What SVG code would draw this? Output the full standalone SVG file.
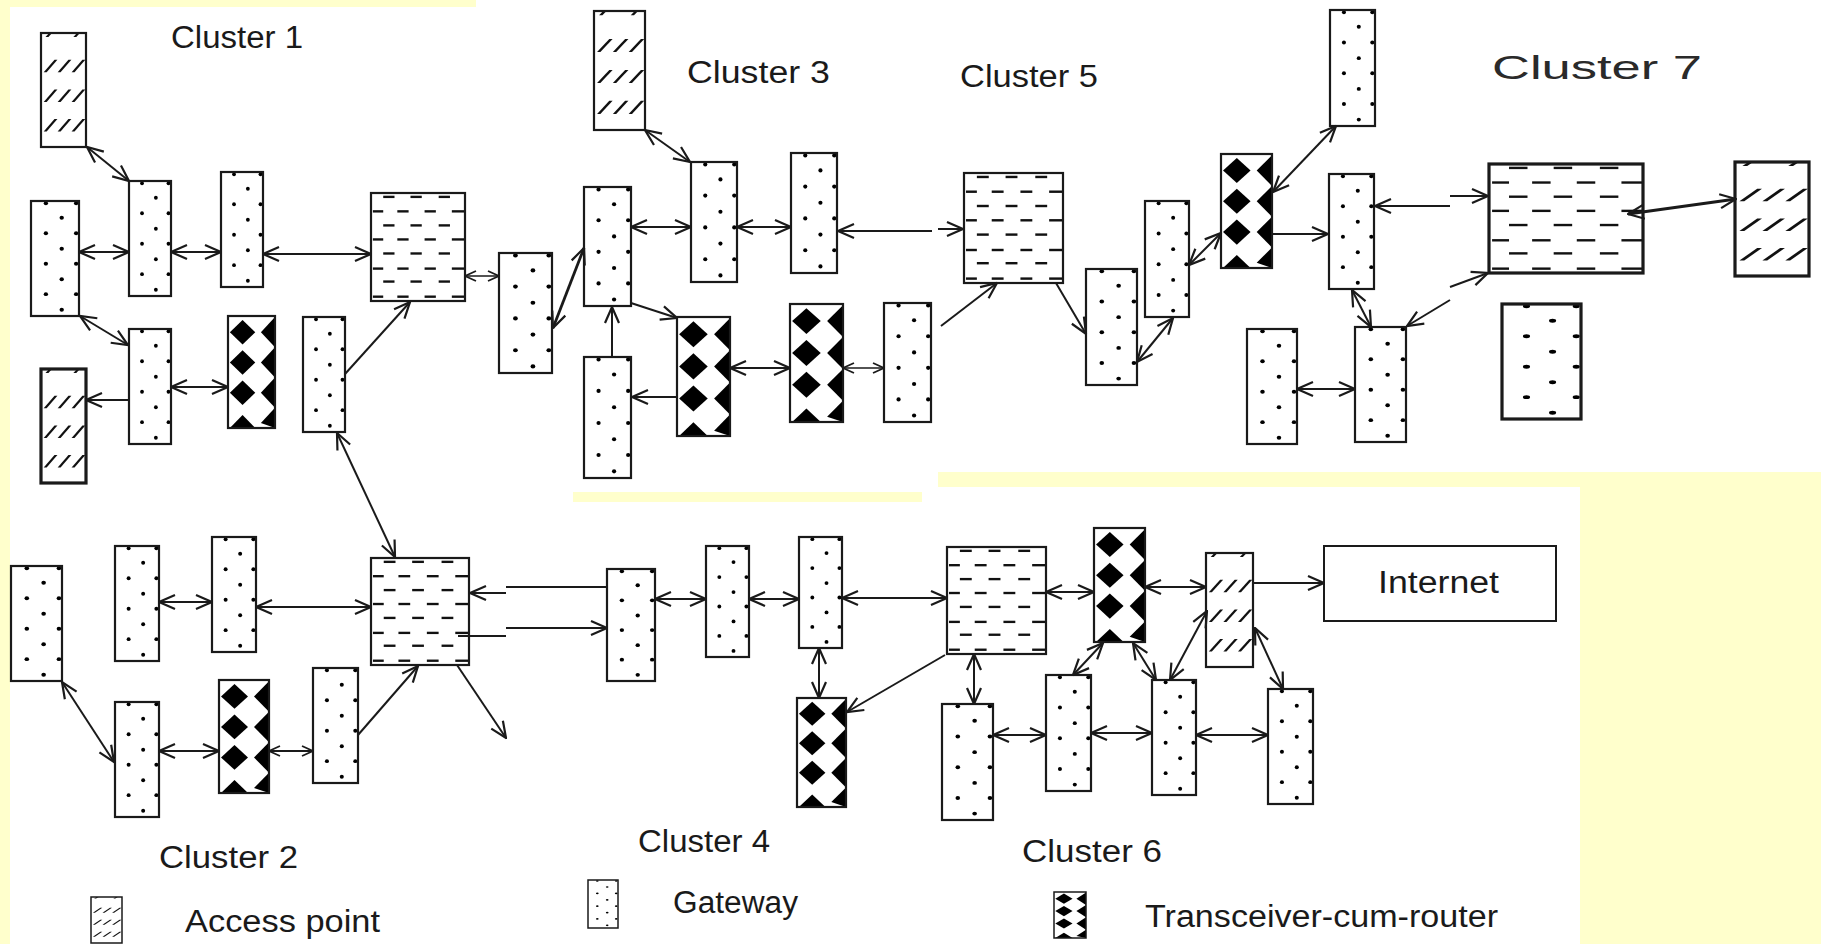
<svg xmlns="http://www.w3.org/2000/svg" width="1821" height="944" viewBox="0 0 1821 944">
<style>
.n{stroke:#1a1a1a;stroke-width:2.2}
.k{stroke-width:3.2}
.gw{fill:url(#gw)}
.tr{fill:url(#tr)}
.rt{fill:url(#rt)}
.ap{fill:url(#ap)}
.c{fill:none;stroke:#1a1a1a;stroke-width:2}
.w{stroke-width:2.8}
.th{stroke-width:1.5}
.d{marker-start:url(#ah);marker-end:url(#ah)}
.s{marker-end:url(#ah)}
.ds{marker-start:url(#as);marker-end:url(#as)}
.t{font-family:"Liberation Sans",Arial,sans-serif;font-size:31px;fill:#1a1a1a}
</style>
<defs>
<marker id="ah" viewBox="0 0 18 18" refX="17" refY="9" markerWidth="18" markerHeight="18" orient="auto-start-reverse" markerUnits="userSpaceOnUse"><path d="M1,2 L17,9 L1,16" fill="none" stroke="#1a1a1a" stroke-width="2.2"/></marker>
<marker id="as" viewBox="0 0 13 13" refX="12" refY="6.5" markerWidth="13" markerHeight="13" orient="auto-start-reverse" markerUnits="userSpaceOnUse"><path d="M1,1.5 L12,6.5 L1,11.5" fill="none" stroke="#1a1a1a" stroke-width="1.8"/></marker>
<pattern id="gw" patternUnits="objectBoundingBox" patternContentUnits="objectBoundingBox" width="1" height="1">
<rect width="1" height="1" fill="#fff"/>
<g fill="#000">
<ellipse cx=".31" cy=".02" rx=".045" ry=".017"/><ellipse cx=".94" cy=".02" rx=".045" ry=".017"/>
<ellipse cx=".64" cy=".145" rx=".045" ry=".017"/>
<ellipse cx=".31" cy=".28" rx=".045" ry=".017"/><ellipse cx=".94" cy=".28" rx=".045" ry=".017"/>
<ellipse cx=".64" cy=".415" rx=".045" ry=".017"/>
<ellipse cx=".31" cy=".545" rx=".045" ry=".017"/><ellipse cx=".94" cy=".545" rx=".045" ry=".017"/>
<ellipse cx=".64" cy=".68" rx=".045" ry=".017"/>
<ellipse cx=".31" cy=".81" rx=".045" ry=".017"/><ellipse cx=".94" cy=".81" rx=".045" ry=".017"/>
<ellipse cx=".64" cy=".945" rx=".045" ry=".017"/>
</g>
</pattern>
<pattern id="tr" patternUnits="objectBoundingBox" patternContentUnits="objectBoundingBox" width="1" height="1">
<rect width="1" height="1" fill="#fff"/>
<g fill="#000">
<polygon points=".04,.145 .31,.035 .58,.145 .31,.255"/>
<polygon points=".04,.415 .31,.305 .58,.415 .31,.525"/>
<polygon points=".04,.685 .31,.575 .58,.685 .31,.795"/>
<polygon points=".04,1 .31,.885 .58,1"/>
<polygon points="1,.01 .70,.145 1,.28"/>
<polygon points="1,.28 .70,.415 1,.55"/>
<polygon points="1,.55 .70,.685 1,.82"/>
<polygon points="1,.82 .70,.955 1,1"/>
</g>
</pattern>
<pattern id="rt" patternUnits="objectBoundingBox" patternContentUnits="objectBoundingBox" width="1" height="1">
<rect width="1" height="1" fill="#fff"/>
<g fill="#111">
<rect x=".13" y=".025" width=".12" height=".022"/><rect x=".42" y=".025" width=".12" height=".022"/><rect x=".72" y=".025" width=".12" height=".022"/>
<rect x=".02" y=".159" width=".11" height=".022"/><rect x=".28" y=".159" width=".12" height=".022"/><rect x=".57" y=".159" width=".12" height=".022"/><rect x=".86" y=".159" width=".14" height=".022"/>
<rect x=".13" y=".289" width=".12" height=".022"/><rect x=".42" y=".289" width=".12" height=".022"/><rect x=".72" y=".289" width=".12" height=".022"/>
<rect x=".02" y=".419" width=".11" height=".022"/><rect x=".28" y=".419" width=".12" height=".022"/><rect x=".57" y=".419" width=".12" height=".022"/><rect x=".86" y=".419" width=".14" height=".022"/>
<rect x=".13" y=".549" width=".12" height=".022"/><rect x=".42" y=".549" width=".12" height=".022"/><rect x=".72" y=".549" width=".12" height=".022"/>
<rect x=".02" y=".689" width=".11" height=".022"/><rect x=".28" y=".689" width=".12" height=".022"/><rect x=".57" y=".689" width=".12" height=".022"/><rect x=".86" y=".689" width=".14" height=".022"/>
<rect x=".13" y=".809" width=".12" height=".022"/><rect x=".42" y=".809" width=".12" height=".022"/><rect x=".72" y=".809" width=".12" height=".022"/>
<rect x=".02" y=".949" width=".11" height=".022"/><rect x=".28" y=".949" width=".12" height=".022"/><rect x=".57" y=".949" width=".12" height=".022"/><rect x=".86" y=".949" width=".14" height=".022"/>
</g>
</pattern>
<pattern id="ap" patternUnits="objectBoundingBox" patternContentUnits="objectBoundingBox" width="1" height="1">
<rect width="1" height="1" fill="#fff"/>
<g fill="#111">
<polygon points=".10,.035 .18,0 .245,0 .165,.035"/><polygon points=".72,.035 .80,0 .865,0 .785,.035"/>
<polygon points=".06,.345 .30,.235 .365,.235 .125,.345"/><polygon points=".37,.345 .61,.235 .675,.235 .435,.345"/><polygon points=".68,.345 .92,.235 .985,.235 .745,.345"/>
<polygon points=".06,.605 .30,.495 .365,.495 .125,.605"/><polygon points=".37,.605 .61,.495 .675,.495 .435,.605"/><polygon points=".68,.605 .92,.495 .985,.495 .745,.605"/>
<polygon points=".06,.865 .30,.755 .365,.755 .125,.865"/><polygon points=".37,.865 .61,.755 .675,.755 .435,.865"/><polygon points=".68,.865 .92,.755 .985,.755 .745,.865"/>
</g>
</pattern>
</defs>

<g id="background">
<rect width="1821" height="944" fill="#ffffcc"/>
<rect x="10" y="7" width="1570" height="937" fill="#fff"/>
<rect x="476" y="0" width="1345" height="472" fill="#fff"/>
<rect x="573" y="492" width="349" height="10" fill="#ffffcc"/>
<rect x="938" y="472" width="883" height="15" fill="#ffffcc"/>
<rect x="1580" y="487" width="241" height="457" fill="#ffffcc"/>
</g>

<g id="labels">
<text class="t" x="171" y="48" textLength="132" lengthAdjust="spacingAndGlyphs">Cluster 1</text>
<text class="t" x="687" y="83" textLength="143" lengthAdjust="spacingAndGlyphs">Cluster 3</text>
<text class="t" x="960" y="87" textLength="138" lengthAdjust="spacingAndGlyphs">Cluster 5</text>
<text class="t" x="1492" y="79" textLength="210" lengthAdjust="spacingAndGlyphs" style="font-size:33px;fill:#2a2a2a">Cluster 7</text>
<text class="t" x="159" y="868" textLength="139" lengthAdjust="spacingAndGlyphs">Cluster 2</text>
<text class="t" x="638" y="852" textLength="132" lengthAdjust="spacingAndGlyphs">Cluster 4</text>
<text class="t" x="1022" y="862" textLength="140" lengthAdjust="spacingAndGlyphs">Cluster 6</text>
<text class="t" x="185" y="932" textLength="195" lengthAdjust="spacingAndGlyphs">Access point</text>
<text class="t" x="673" y="913" textLength="125" lengthAdjust="spacingAndGlyphs">Gateway</text>
<text class="t" x="1145" y="927" textLength="353" lengthAdjust="spacingAndGlyphs">Transceiver-cum-router</text>
</g>

<g id="cluster1">
<g id="A1"><rect class="n ap" x="41" y="33" width="45" height="114"/></g>
<g id="A1b"><rect class="n k ap" x="41" y="369" width="45" height="114"/></g>
<g id="G1a"><rect class="n gw" x="31" y="201" width="48" height="115"/></g>
<g id="G1b"><rect class="n gw" x="129" y="181" width="42" height="115"/></g>
<g id="G1c"><rect class="n gw" x="221" y="172" width="42" height="115"/></g>
<g id="G1d"><rect class="n gw" x="129" y="329" width="42" height="115"/></g>
<g id="G1e"><rect class="n gw" x="303" y="317" width="42" height="115"/></g>
<g id="T1"><rect class="n tr" x="228" y="316" width="47" height="112"/></g>
<g id="R1"><rect class="n rt" x="371" y="193" width="94" height="108"/></g>
<g id="G13"><rect class="n gw" x="499" y="253" width="53" height="120"/></g>
</g>

<g id="cluster3">
<g id="A3"><rect class="n ap" x="594" y="11" width="51" height="119"/></g>
<g id="G3a"><rect class="n gw" x="584" y="187" width="47" height="119"/></g>
<g id="G3b"><rect class="n gw" x="691" y="162" width="46" height="120"/></g>
<g id="G3c"><rect class="n gw" x="791" y="153" width="46" height="120"/></g>
<g id="G3d"><rect class="n gw" x="584" y="357" width="47" height="121"/></g>
<g id="T3"><rect class="n tr" x="677" y="317" width="53" height="119"/></g>
<g id="T5"><rect class="n tr" x="790" y="304" width="53" height="118"/></g>
<g id="G5a"><rect class="n gw" x="884" y="303" width="47" height="119"/></g>
</g>

<g id="cluster5">
<g id="R5"><rect class="n rt" x="964" y="173" width="99" height="110"/></g>
<g id="G5b"><rect class="n gw" x="1086" y="269" width="51" height="116"/></g>
<g id="G5c"><rect class="n gw" x="1145" y="201" width="44" height="116"/></g>
<g id="T5b"><rect class="n tr" x="1221" y="154" width="51" height="114"/></g>
</g>

<g id="cluster7">
<g id="G7a"><rect class="n gw" x="1330" y="10" width="45" height="116"/></g>
<g id="G7b"><rect class="n gw" x="1329" y="174" width="45" height="115"/></g>
<g id="G7c"><rect class="n gw" x="1355" y="327" width="51" height="115"/></g>
<g id="G7d"><rect class="n gw" x="1247" y="329" width="50" height="115"/></g>
<g id="G7e"><rect class="n k gw" x="1502" y="304" width="79" height="115"/></g>
<g id="R7"><rect class="n k rt" x="1489" y="164" width="154" height="109"/></g>
<g id="A7"><rect class="n k ap" x="1735" y="162" width="74" height="114"/></g>
</g>

<g id="cluster2">
<g id="G2a"><rect class="n gw" x="11" y="566" width="51" height="115"/></g>
<g id="G2b"><rect class="n gw" x="115" y="546" width="44" height="115"/></g>
<g id="G2c"><rect class="n gw" x="212" y="537" width="44" height="115"/></g>
<g id="G2d"><rect class="n gw" x="115" y="702" width="44" height="115"/></g>
<g id="G2e"><rect class="n gw" x="313" y="668" width="45" height="115"/></g>
<g id="T2"><rect class="n tr" x="219" y="680" width="50" height="113"/></g>
<g id="R2"><rect class="n rt" x="371" y="558" width="98" height="107"/></g>
</g>

<g id="cluster4">
<g id="G4a"><rect class="n gw" x="607" y="569" width="48" height="112"/></g>
<g id="G4b"><rect class="n gw" x="706" y="546" width="43" height="111"/></g>
<g id="G4c"><rect class="n gw" x="799" y="537" width="43" height="111"/></g>
<g id="T4"><rect class="n tr" x="797" y="698" width="49" height="109"/></g>
</g>

<g id="cluster6">
<g id="R3"><rect class="n rt" x="947" y="547" width="99" height="107"/></g>
<g id="T6"><rect class="n tr" x="1094" y="528" width="51" height="114"/></g>
<g id="A6"><rect class="n ap" x="1206" y="553" width="47" height="114"/></g>
<g id="G6a"><rect class="n gw" x="942" y="704" width="51" height="116"/></g>
<g id="G6b"><rect class="n gw" x="1046" y="675" width="45" height="116"/></g>
<g id="G6c"><rect class="n gw" x="1152" y="680" width="44" height="115"/></g>
<g id="G6d"><rect class="n gw" x="1268" y="689" width="45" height="115"/></g>
</g>

<g id="internet">
<rect x="1324" y="546" width="232" height="75" fill="#fff" stroke="#1a1a1a" stroke-width="2"/>
<text class="t" x="1378" y="593" textLength="121" lengthAdjust="spacingAndGlyphs">Internet</text>
</g>

<g id="legend">
<g id="legend-ap"><rect class="n ap" x="91" y="897" width="31" height="46" style="stroke-width:1.5"/></g>
<g id="legend-gw"><rect class="n gw" x="588" y="880" width="30" height="48" style="stroke-width:1.5"/></g>
<g id="legend-tr"><rect class="n tr" x="1054" y="892" width="32" height="46" style="stroke-width:1.5"/></g>
</g>

<g id="connectors">
<line class="c d" x1="87" y1="147" x2="129" y2="181"/>
<line class="c d" x1="79" y1="252" x2="129" y2="252"/>
<line class="c d" x1="171" y1="252" x2="221" y2="252"/>
<line class="c d" x1="263" y1="254" x2="371" y2="254"/>
<line class="c d" x1="80" y1="316" x2="128" y2="345"/>
<line class="c s" x1="129" y1="400" x2="86" y2="400"/>
<line class="c d" x1="171" y1="387" x2="228" y2="387"/>
<line class="c s" x1="345" y1="374" x2="410" y2="302"/>
<line class="c d" x1="337" y1="433" x2="395" y2="557"/>
<line class="c th ds" x1="465" y1="276" x2="499" y2="276"/>
<line class="c w d" x1="553" y1="328" x2="584" y2="248"/>
<line class="c d" x1="645" y1="130" x2="690" y2="162"/>
<line class="c d" x1="631" y1="227" x2="691" y2="227"/>
<line class="c d" x1="737" y1="227" x2="791" y2="227"/>
<line class="c s" x1="932" y1="231" x2="838" y2="231"/>
<line class="c s" x1="938" y1="229" x2="963" y2="229"/>
<line class="c s" x1="631" y1="303" x2="677" y2="318"/>
<line class="c s" x1="612" y1="357" x2="612" y2="307"/>
<line class="c s" x1="677" y1="397" x2="632" y2="397"/>
<line class="c d" x1="730" y1="368" x2="790" y2="368"/>
<line class="c th ds" x1="843" y1="368" x2="884" y2="368"/>
<line class="c s" x1="941" y1="326" x2="997" y2="283"/>
<line class="c s" x1="1056" y1="283" x2="1086" y2="334"/>
<line class="c d" x1="1137" y1="362" x2="1173" y2="318"/>
<line class="c d" x1="1189" y1="265" x2="1221" y2="233"/>
<line class="c d" x1="1273" y1="192" x2="1336" y2="126"/>
<line class="c s" x1="1272" y1="234" x2="1328" y2="234"/>
<line class="c s" x1="1450" y1="206" x2="1375" y2="206"/>
<line class="c s" x1="1450" y1="196" x2="1488" y2="196"/>
<line class="c w d" x1="1628" y1="214" x2="1736" y2="199"/>
<line class="c d" x1="1352" y1="290" x2="1371" y2="327"/>
<line class="c s" x1="1450" y1="300" x2="1407" y2="326"/>
<line class="c s" x1="1450" y1="287" x2="1488" y2="273"/>
<line class="c d" x1="1297" y1="389" x2="1355" y2="389"/>
<line class="c d" x1="62" y1="682" x2="114" y2="762"/>
<line class="c d" x1="159" y1="602" x2="212" y2="602"/>
<line class="c d" x1="256" y1="607" x2="371" y2="607"/>
<line class="c d" x1="159" y1="751" x2="219" y2="751"/>
<line class="c ds" x1="269" y1="751" x2="313" y2="751"/>
<line class="c s" x1="358" y1="735" x2="418" y2="666"/>
<line class="c s" x1="457" y1="665" x2="506" y2="738"/>
<path class="c s" d="M607,587 L506,587 M506,593 L470,593"/>
<path class="c s" d="M458,636 L506,636 M506,628 L607,628"/>
<line class="c d" x1="655" y1="599" x2="706" y2="599"/>
<line class="c d" x1="749" y1="599" x2="799" y2="599"/>
<line class="c d" x1="842" y1="598" x2="947" y2="598"/>
<line class="c d" x1="819" y1="648" x2="819" y2="698"/>
<line class="c s" x1="945" y1="655" x2="847" y2="712"/>
<line class="c d" x1="1046" y1="592" x2="1094" y2="592"/>
<line class="c d" x1="1145" y1="587" x2="1206" y2="587"/>
<line class="c s" x1="1253" y1="583" x2="1324" y2="583"/>
<line class="c d" x1="974" y1="654" x2="974" y2="704"/>
<line class="c d" x1="993" y1="735" x2="1046" y2="735"/>
<line class="c d" x1="1103" y1="643" x2="1073" y2="675"/>
<line class="c d" x1="1133" y1="643" x2="1156" y2="680"/>
<line class="c d" x1="1091" y1="733" x2="1152" y2="733"/>
<line class="c d" x1="1207" y1="611" x2="1170" y2="680"/>
<line class="c d" x1="1255" y1="628" x2="1283" y2="689"/>
<line class="c d" x1="1196" y1="735" x2="1268" y2="735"/>
</g>
</svg>
